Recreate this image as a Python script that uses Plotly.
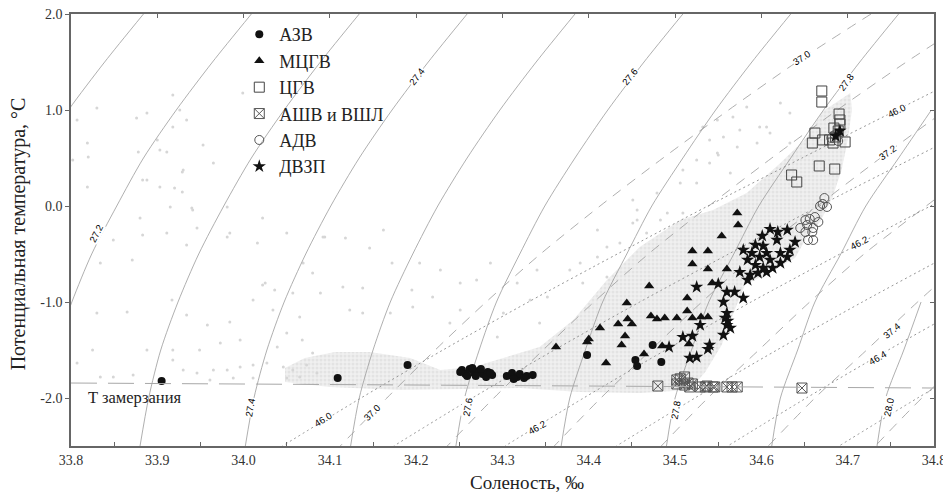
import plotly.graph_objects as go

# ---------------- data ----------------
T_GRID = [2.0, 1.5, 1.0, 0.5, 0.0, -0.5, -1.0, -1.5, -2.0, -2.5]

SIGMA0_LEVELS = ["27.1", "27.2", "27.3", "27.4", "27.5", "27.6", "27.7", "27.8", "27.9", "28.0"]
SIGMA0_S = [
    [33.884, 33.839, 33.797, 33.759, None, None, None, None, None, None],
    [34.009, 33.964, 33.922, 33.884, 33.853, 33.824, 33.801, 33.781, None, None],
    [34.134, 34.089, 34.047, 34.009, 33.977, 33.948, 33.924, 33.904, 33.890, 33.880],
    [34.259, 34.214, 34.172, 34.134, 34.101, 34.072, 34.047, 34.027, 34.012, 34.002],
    [34.384, 34.339, 34.297, 34.259, 34.225, 34.196, 34.170, 34.150, 34.134, 34.124],
    [34.509, 34.464, 34.422, 34.384, 34.349, 34.320, 34.293, 34.273, 34.256, 34.246],
    [34.634, 34.589, 34.547, 34.509, 34.473, 34.444, 34.416, 34.396, 34.378, 34.368],
    [34.759, 34.714, 34.672, 34.634, 34.597, 34.568, 34.539, 34.519, 34.500, 34.490],
    [None, None, 34.797, 34.759, 34.721, 34.692, 34.662, 34.642, 34.622, 34.612],
    [None, None, None, None, None, None, 34.785, 34.765, 34.744, 34.734],
]

SIGMA2_LEVELS = ["37.0", "37.1", "37.2", "37.3", "37.4", "37.5"]
SIGMA2_S = [
    [34.727, 34.641, 34.562, 34.486, 34.413, 34.344, 34.281, 34.222, 34.166, 34.112],
    [34.854, 34.768, 34.688, 34.612, 34.539, 34.469, 34.406, 34.347, 34.290, 34.236],
    [34.981, 34.895, 34.814, 34.738, 34.665, 34.594, 34.531, 34.472, 34.414, 34.360],
    [35.108, 35.022, 34.940, 34.864, 34.791, 34.719, 34.656, 34.597, 34.538, 34.484],
    [35.235, 35.149, 35.066, 34.990, 34.917, 34.844, 34.781, 34.722, 34.662, 34.608],
    [35.362, 35.276, 35.192, 35.116, 35.043, 34.969, 34.906, 34.847, 34.786, 34.732],
]

SIGMA4_LEVELS = ["46.0", "46.1", "46.2", "46.3", "46.4", "46.5", "46.6"]
SIGMA4_S = [
    [34.980, 34.868, 34.757, 34.647, 34.538, 34.433, 34.330, 34.231, 34.136, 34.045],
    [35.109, 34.997, 34.886, 34.776, 34.667, 34.562, 34.459, 34.360, 34.265, 34.174],
    [35.238, 35.126, 35.015, 34.905, 34.796, 34.691, 34.588, 34.489, 34.394, 34.303],
    [None, None, 35.144, 35.034, 34.925, 34.820, 34.717, 34.618, 34.523, 34.432],
    [None, None, None, 35.163, 35.054, 34.949, 34.846, 34.747, 34.652, 34.561],
    [None, None, None, None, 35.183, 35.078, 34.975, 34.876, 34.781, 34.690],
    [None, None, None, None, None, 35.207, 35.104, 35.005, 34.910, 34.819],
]

ISO_LABEL_TEXT = ["27.2", "27.4", "27.4", "27.6", "27.6", "27.8", "27.8", "28.0",
                  "37.0", "37.0", "37.2", "37.4",
                  "46.0", "46.0", "46.2", "46.2", "46.4"]
ISO_LABEL_S = [33.830, 34.201, 34.007, 34.448, 34.259, 34.699, 34.500, 34.747,
               34.647, 34.149, 34.746, 34.751,
               34.757, 34.092, 34.714, 34.340, 34.735]
ISO_LABEL_T = [-0.281, 1.344, -2.094, 1.344, -2.094, 1.292, -2.125, -2.094,
               1.552, -2.156, 0.562, -1.292,
               1.000, -2.229, -0.385, -2.312, -1.573]
ISO_LABEL_ANGLE = [-63, -53, -80, -51, -80, -54, -80, -78,
                   -33, -45, -35, -40,
                   -27, -32, -28, -30, -30]

FREEZE_S = [33.8, 34.8]
FREEZE_T = [-1.844, -1.896]

# dense cloud of background CTD data (outline)
CLOUD_S = [34.703, 34.670, 34.653, 34.622, 34.583, 34.544, 34.506, 34.459, 34.421, 34.382,
           34.343, 34.305, 34.266, 34.228, 34.193, 34.146, 34.106, 34.071, 34.048, 34.048,
           34.100, 34.181, 34.320, 34.390, 34.459, 34.517, 34.535, 34.554, 34.569, 34.581,
           34.610, 34.639, 34.654, 34.668, 34.682, 34.693, 34.700, 34.705]
CLOUD_T = [1.177, 0.979, 0.719, 0.448, 0.135, -0.042, -0.146, -0.427, -0.771, -1.188,
           -1.469, -1.573, -1.677, -1.708, -1.583, -1.521, -1.521, -1.583, -1.688, -1.833,
           -1.885, -1.917, -1.896, -1.938, -1.948, -1.917, -1.729, -1.448, -1.083, -0.823,
           -0.688, -0.542, -0.302, -0.167, 0.083, 0.375, 0.688, 1.000]

# sparse background points
DOT_S = [33.918, 33.830, 33.926, 33.934, 33.876, 33.807, 33.900, 33.918, 33.953, 33.965,
         33.911, 33.929, 33.883, 33.819, 33.820, 33.802, 33.999, 33.915, 33.880, 33.941,
         33.981, 34.022, 33.984, 33.819, 33.929, 33.888, 33.903, 33.930, 33.878, 33.888,
         33.903, 33.920, 33.940, 33.883, 33.911, 33.934, 33.871, 33.849, 33.834, 33.946,
         33.981, 34.016, 34.050, 34.069, 34.094, 34.080, 34.025, 34.057, 34.089, 33.917,
         33.865, 33.830, 33.934, 33.958, 33.984, 34.022, 34.036, 34.011, 34.034, 34.065,
         34.050, 34.039, 34.068, 34.080, 33.996, 33.973, 33.949, 33.918, 33.888, 33.825,
         33.807, 33.834, 33.849, 33.872, 33.918, 33.930, 33.946, 33.965, 33.981, 33.996,
         34.011, 34.027, 34.046, 34.057, 34.073, 34.085, 33.961, 33.988, 34.011, 34.050,
         34.065, 34.092, 34.118, 34.162, 34.146, 34.172, 34.204, 34.228, 34.195, 34.219,
         34.251, 34.115, 34.138, 34.123, 34.138, 34.170, 34.196, 34.286, 34.317, 34.340,
         34.352, 34.378, 34.393, 34.410, 34.421, 34.436, 34.451, 34.456, 34.410, 34.270,
         34.239, 34.251, 34.301, 34.332, 34.343, 34.294, 34.451, 34.483, 34.467, 34.509,
         34.421, 34.390, 34.509, 34.525, 34.540, 34.550, 34.564, 34.506, 34.479, 34.456,
         34.491, 34.532, 34.549, 34.567, 34.583, 34.540, 34.556, 34.575, 34.598, 34.525,
         34.549, 34.572, 34.595, 34.610, 34.622, 34.633, 34.606, 34.633]
DOT_T = [1.156, 1.021, 1.000, 0.896, 0.917, 0.896, 0.688, 0.823, 0.635, 0.448,
         0.562, 0.354, 0.271, 0.656, 0.510, 0.479, 1.177, -0.010, -0.125, -0.042,
         -0.010, -0.125, -0.281, 0.198, 0.146, 0.969, 0.583, 0.375, 0.562, 0.271,
         0.198, 0.188, -0.021, -0.302, -0.281, -0.406, -0.562, -0.354, -0.594, -0.229,
         -0.323, -0.385, -0.281, -0.594, -0.323, -0.698, -0.802, -0.906, -0.906, -0.979,
         -1.104, -1.115, -1.135, -1.240, -1.208, -0.823, -0.875, -0.979, -1.083, -1.156,
         -1.323, -1.469, -1.396, -1.531, -1.396, -1.427, -1.500, -1.500, -1.500, -1.500,
         -1.635, -1.781, -1.781, -1.760, -1.604, -1.708, -1.740, -1.708, -1.708, -1.677,
         -1.656, -1.635, -1.677, -1.708, -1.656, -1.740, -1.812, -1.792, -1.792, -1.792,
         -1.781, -0.323, -0.333, -0.250, -0.438, -0.594, -0.594, -0.667, -0.875, -0.948,
         -0.802, -0.844, -0.854, -1.083, -1.115, -1.115, -1.052, -0.594, -0.802, -0.667,
         -0.948, -0.667, -0.802, -0.531, -0.740, -0.385, -0.177, -0.042, -0.250, -0.771,
         -1.219, -1.083, -1.115, -0.979, -1.219, -1.365, 0.062, -0.146, -0.281, -0.073,
         -0.427, -0.594, 0.375, 0.240, 0.448, 0.531, 0.344, 0.240, 0.135, -0.146,
         -0.073, 0.823, 0.896, 0.927, 1.031, 0.688, 0.719, 0.792, 0.823, 0.479,
         0.552, 0.615, 0.656, 0.760, 1.073, 0.969, 0.823, 0.656]

# water masses
AZV_S = [33.905, 34.109, 34.190,
         34.253, 34.257, 34.262, 34.267, 34.272, 34.277, 34.283, 34.288, 34.259, 34.269,
         34.281, 34.251, 34.275, 34.265, 34.286,
         34.305, 34.311, 34.317, 34.320, 34.325, 34.328, 34.313, 34.335,
         34.398, 34.454, 34.456, 34.474, 34.484]
AZV_T = [-1.823, -1.792, -1.656,
         -1.708, -1.750, -1.698, -1.740, -1.719, -1.750, -1.729, -1.760, -1.771, -1.771,
         -1.781, -1.729, -1.698, -1.688, -1.740,
         -1.771, -1.740, -1.781, -1.750, -1.792, -1.771, -1.802, -1.760,
         -1.552, -1.604, -1.667, -1.448, -1.625]

MCGV_S = [34.362, 34.398, 34.400, 34.413, 34.420, 34.434, 34.438, 34.442, 34.444, 34.445,
          34.450, 34.464, 34.470, 34.472, 34.479, 34.488, 34.502, 34.514, 34.520, 34.530,
          34.538, 34.485, 34.516, 34.514, 34.520, 34.538, 34.520, 34.538, 34.560, 34.543,
          34.554, 34.572, 34.573]
MCGV_T = [-1.469, -1.417, -1.385, -1.271, -1.635, -1.229, -1.448, -1.354, -1.010, -1.177,
          -1.229, -1.542, -0.833, -1.146, -1.177, -1.167, -1.167, -1.094, -1.167, -1.156,
          -1.156, -1.458, -1.438, -0.958, -0.469, -0.469, -0.604, -0.656, -0.656, -0.802,
          -0.313, -0.073, -0.198]

CGV_S = [34.670, 34.670, 34.690, 34.691, 34.662, 34.659, 34.671, 34.684, 34.686, 34.697,
         34.683, 34.667, 34.685, 34.635, 34.641, 34.689, 34.679, 34.691]
CGV_T = [1.198, 1.083, 0.958, 0.854, 0.760, 0.656, 0.688, 0.812, 0.719, 0.667,
         0.656, 0.417, 0.385, 0.323, 0.250, 0.781, 0.688, 0.896]

ASHV_S = [34.480, 34.502, 34.502, 34.511, 34.515, 34.517, 34.520, 34.511, 34.529, 34.535,
          34.537, 34.544, 34.546, 34.560, 34.566, 34.572, 34.647, 34.506]
ASHV_T = [-1.875, -1.812, -1.854, -1.781, -1.844, -1.885, -1.854, -1.865, -1.885, -1.885,
          -1.875, -1.885, -1.885, -1.885, -1.885, -1.885, -1.896, -1.800]

ADV_S = [34.673, 34.668, 34.676, 34.671, 34.651, 34.656, 34.662, 34.653, 34.660, 34.651,
         34.659, 34.654, 34.660, 34.666, 34.645, 34.685, 34.689, 34.681]
ADV_T = [0.083, 0.000, -0.010, 0.021, -0.146, -0.135, -0.115, -0.198, -0.229, -0.271,
         -0.271, -0.354, -0.354, -0.167, -0.229, 0.740, 0.677, 0.708]

DVZP_S = [34.601, 34.610, 34.619, 34.630, 34.639, 34.593, 34.602, 34.618, 34.606, 34.622,
          34.633, 34.579, 34.589, 34.598, 34.610, 34.630, 34.584, 34.593, 34.602, 34.613,
          34.622, 34.575, 34.587, 34.596, 34.606, 34.584, 34.525, 34.550, 34.560, 34.569,
          34.579, 34.556, 34.560, 34.558, 34.561, 34.560, 34.564, 34.556, 34.529, 34.509,
          34.520, 34.493, 34.540, 34.538, 34.517, 34.525, 34.686, 34.691]
DVZP_T = [-0.312, -0.240, -0.271, -0.250, -0.375, -0.406, -0.417, -0.354, -0.490, -0.490,
          -0.458, -0.458, -0.490, -0.531, -0.562, -0.531, -0.562, -0.615, -0.646, -0.646,
          -0.594, -0.688, -0.719, -0.698, -0.688, -0.771, -0.844, -0.812, -0.896, -0.896,
          -0.958, -1.000, -1.115, -1.167, -1.198, -1.240, -1.271, -1.344, -1.240, -1.365,
          -1.354, -1.469, -1.448, -1.490, -1.583, -1.573, 0.729, 0.781]

X_TICKS = [33.8, 33.9, 34.0, 34.1, 34.2, 34.3, 34.4, 34.5, 34.6, 34.7, 34.8]
X_TICK_TEXT = ["33.8", "33.9", "34.0", "34.1", "34.2", "34.3", "34.4", "34.5", "34.6", "34.7", "34.8"]
Y_TICKS = [-2.0, -1.0, 0.0, 1.0, 2.0]
Y_TICK_TEXT = ["-2.0", "-1.0", "0.0", "1.0", "2.0"]

# ---------------- figure ----------------
SERIF = "Liberation Serif, Times New Roman, serif"
fig = go.Figure()

# background cloud
fig.add_trace(go.Scatter(
    x=CLOUD_S, y=CLOUD_T, mode="lines", fill="toself", fillcolor="#eeeeee",
    fillpattern=dict(shape=".", fgcolor="#d6d6d6", bgcolor="#f0f0f0", size=4, solidity=0.45),
    line=dict(width=0), hoverinfo="skip", showlegend=False))

fig.add_trace(go.Scatter(
    x=DOT_S, y=DOT_T, mode="markers",
    marker=dict(size=3, color="#d6d6d6"), hoverinfo="skip", showlegend=False))

# isopycnals
for s_list in SIGMA0_S:
    fig.add_trace(go.Scatter(x=s_list, y=T_GRID, mode="lines",
                             line=dict(color="#9a9a9a", width=0.8, shape="spline", smoothing=0.8),
                             hoverinfo="skip", showlegend=False))
for s_list in SIGMA2_S:
    fig.add_trace(go.Scatter(x=s_list, y=T_GRID, mode="lines",
                             line=dict(color="#9a9a9a", width=0.8, dash="10px,8px", shape="spline", smoothing=0.8),
                             hoverinfo="skip", showlegend=False))
for s_list in SIGMA4_S:
    fig.add_trace(go.Scatter(x=s_list, y=T_GRID, mode="lines",
                             line=dict(color="#8a8a8a", width=0.9, dash="2px,3px", shape="spline", smoothing=0.8),
                             hoverinfo="skip", showlegend=False))

# freezing line (on the overlay axes so they are drawn)
fig.add_trace(go.Scatter(x=FREEZE_S, y=FREEZE_T, mode="lines", xaxis="x2", yaxis="y2",
                         line=dict(color="#a8a8a8", width=1, dash="26px,11px"),
                         hoverinfo="skip", showlegend=False))

# water masses
fig.add_trace(go.Scatter(x=AZV_S, y=AZV_T, mode="markers", name="АЗВ",
                         marker=dict(symbol="circle", size=8, color="#111111")))
fig.add_trace(go.Scatter(x=MCGV_S, y=MCGV_T, mode="markers", name="МЦГВ",
                         marker=dict(symbol="triangle-up", size=9, color="#111111")))
fig.add_trace(go.Scatter(x=CGV_S, y=CGV_T, mode="markers", name="ЦГВ",
                         marker=dict(symbol="square-open", size=10, color="#444444", line=dict(width=1))))
fig.add_trace(go.Scatter(x=ASHV_S, y=ASHV_T, mode="markers", name="АШВ и ВШЛ",
                         marker=dict(symbol="square-x-open", size=10, color="#555555", line=dict(width=1))))
fig.add_trace(go.Scatter(x=ADV_S, y=ADV_T, mode="markers", name="АДВ",
                         marker=dict(symbol="circle-open", size=9, color="#555555", line=dict(width=1))))
fig.add_trace(go.Scatter(x=DVZP_S, y=DVZP_T, mode="markers", name="ДВЗП",
                         marker=dict(symbol="star", size=10, color="#111111")))

annotations = []
for txt, s, t, ang in zip(ISO_LABEL_TEXT, ISO_LABEL_S, ISO_LABEL_T, ISO_LABEL_ANGLE):
    annotations.append(dict(x=s, y=t, xref="x", yref="y", text=txt, showarrow=False,
                            textangle=ang, bgcolor="white", borderpad=0,
                            font=dict(family="Liberation Sans, Arial, sans-serif", size=9.5, color="#000000")))
annotations.append(dict(x=33.874, y=-1.99, xref="x", yref="y", text="T замерзания", showarrow=False,
                        font=dict(family=SERIF, size=16.5, color="#222222")))
annotations.append(dict(x=0.528, y=-0.0856, xref="paper", yref="paper", text="Соленость, ‰",
                        showarrow=False, yanchor="middle",
                        font=dict(family=SERIF, size=19, color="#222222")))
annotations.append(dict(x=-0.0614, y=0.49, xref="paper", yref="paper",
                        text="Потенциальная температура, °C", textangle=-90,
                        showarrow=False, xanchor="center", yanchor="middle",
                        font=dict(family=SERIF, size=20, color="#222222")))

# the page body adds an 8px offset, so the figure is 8px smaller with 8px less left/top margin
fig.update_layout(
    width=943, height=486,
    margin=dict(l=63, r=17, t=6, b=48, autoexpand=False),
    paper_bgcolor="white", plot_bgcolor="white",
    showlegend=True,
    legend=dict(x=0.195, y=0.995, xanchor="left", yanchor="top",
                bgcolor="rgba(0,0,0,0)", font=dict(family=SERIF, size=18, color="#222222"),
                itemsizing="trace", tracegroupgap=0),
    annotations=annotations,
    xaxis=dict(range=[33.8, 34.8], tickvals=X_TICKS, ticktext=X_TICK_TEXT, automargin=False,
               ticks="", showgrid=False, zeroline=False, ticklabeloverflow="allow",
               showline=True, linecolor="#666666", linewidth=1.5, mirror=True,
               tickfont=dict(family=SERIF, size=14, color="#333333"),
               minor=dict(ticks="inside", tick0=33.85, dtick=0.1, ticklen=4, tickcolor="#666666", showgrid=False)),
    yaxis=dict(range=[-2.5, 2.0], tickvals=Y_TICKS, ticktext=Y_TICK_TEXT, automargin=False,
               ticks="outside", ticklen=4, tickcolor="#666666", showgrid=False, zeroline=False,
               ticklabeloverflow="allow",
               showline=True, linecolor="#666666", linewidth=1.5, mirror=True,
               tickfont=dict(family=SERIF, size=14, color="#333333")),
    xaxis2=dict(range=[33.8, 34.8], overlaying="x", side="top", anchor="y2", automargin=False,
                tickvals=X_TICKS, showticklabels=False, ticks="inside", ticklen=4,
                tickcolor="#666666", showgrid=False, zeroline=False, showline=False),
    yaxis2=dict(range=[-2.5, 2.0], overlaying="y", side="right", anchor="x2", automargin=False,
                tickvals=Y_TICKS, showticklabels=False, ticks="inside", ticklen=4,
                tickcolor="#666666", showgrid=False, zeroline=False, showline=False),
)

fig.write_html("out.html")
